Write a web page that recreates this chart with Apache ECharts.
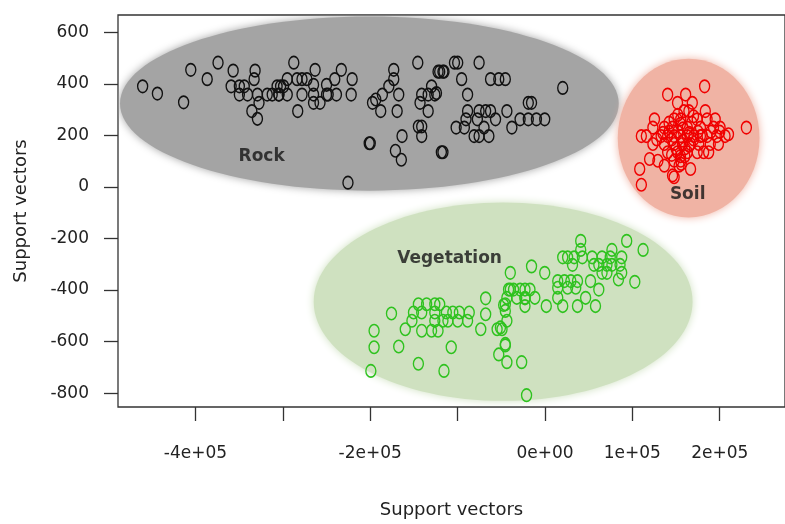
<!DOCTYPE html>
<html>
<head>
<meta charset="utf-8">
<script src="https://cdn.jsdelivr.net/npm/echarts@6/dist/echarts.min.js"></script>
<style>html,body{margin:0;padding:0;background:#fff}#c{width:785px;height:524px}</style>
</head>
<body>
<div id="c"></div>
<script>
// ---- data (x in raw units, y in raw units) ----
const rockPoints = [
[-460500,391],[-443600,363],[-413600,329],[-405400,455],[-386600,419],[-374200,483],[-356900,452],[-331800,452],[-332900,419],[-359200,391],[-349800,391],[-344200,391],[-349800,359],[-340400,359],[-329100,359],[-317900,359],[-312200,359],[-304800,359],[-327300,327],[-335500,295],[-329100,265],[-306600,391],[-299200,391],
[-287500,483],[-263100,455],[-233100,455],[-220700,419],[-240600,419],[-295000,419],[-283800,419],[-278100,419],[-272500,419],[-302600,391],[-304400,359],[-295000,359],[-278100,359],[-264900,359],[-250000,359],[-248100,359],[-238700,359],[-221800,359],[-264900,397],[-250000,397],[-264900,327],[-257500,327],[-283000,295],
[-173100,455],[-173100,419],[-178700,391],[-186100,359],[-193700,340],[-197400,327],[-167400,359],[-188000,295],[-169200,295],[-145600,483],[-122400,448],[-116800,448],[-129800,391],[-141100,359],[-133700,359],[-126100,359],[-143000,327],[-133700,295],[-144900,235],[-141100,235],[-141100,198],[-201200,170],[-200000,170],[-163600,198],[-171200,141],[-164400,106],[-118600,135],[-225500,17],
[-103600,483],[-99900,483],[-75400,483],[-120500,448],[-115600,448],[-95400,419],[-62300,419],[-52900,419],[-45400,419],[-88600,359],[20300,385],[-19100,327],[-15400,327],[-88600,295],[-75400,295],[-67900,295],[-62300,295],[-43600,295],[-90400,263],[-77400,263],[-56600,263],[-101700,231],[-92300,231],[-69800,231],[-37900,231],[-28500,263],[-19100,263],[-9800,263],[-300,263],[-81100,198],[-75400,198],[-64200,198],[-116800,135],[-124200,365]
];
const soilPoints = [
[182700,391],[140400,359],[161000,359],[151700,327],[168600,327],[159100,295],[164700,295],[183500,295],
[125300,263],[147800,263],[155400,263],[174200,263],[185500,263],[194800,263],
[230500,231],[123500,231],[136600,231],[146000,231],[162900,231],[177900,231],[192900,231],[200400,231],
[110300,198],[116000,198],[132900,198],[140400,198],[147800,198],[155400,198],[162900,198],[170400,198],[177900,198],[185500,198],[196700,198],[206100,198],
[123500,167],[136600,167],[147800,167],[157300,167],[166600,167],[176000,167],[189200,167],[198500,167],
[140400,135],[151700,135],[162900,135],[174200,135],[181600,135],[187300,135],
[119700,109],[129200,102],[147800,102],[155400,102],[136600,83],[153500,83],[166600,70],[108400,70],[146000,45],[147800,38],[110300,9],
[152000,215],[158000,180],[165000,210],[145000,185],[170000,185],[160000,150],[150000,150],[142000,215],[175000,215],[168000,250],[155000,245],[160000,120],[155000,120],[145000,125],[165000,160],[180000,200],[190000,215],[200000,215],[210000,205],[152000,280],[170000,275],[135000,210],[128000,185],[158000,228],[142000,250],[156000,90]
];
const vegetationPoints = [
[-195600,-558],[-195600,-622],[-199300,-714],[-175700,-491],[-167400,-619],[-159900,-552],[-144900,-686],[-115600,-714],[-107300,-622],
[-144900,-455],[-135500,-455],[-126100,-455],[-120500,-455],
[-150500,-487],[-141100,-487],[-126100,-487],[-112900,-487],[-105500,-487],[-98000,-487],[-86700,-487],
[-152300,-519],[-126100,-519],[-116800,-519],[-111100,-519],[-99900,-519],[-88600,-519],
[-141100,-558],[-129800,-558],[-122400,-558],
[-67900,-432],[-67900,-494],[-73500,-552],[-54800,-552],[-49200,-552],[-45400,-455],[-45400,-481],[-43600,-519],[-45400,-615],[-52900,-650],[-43600,-680],[-26700,-680],[-21100,-808],[-39700,-398],[-28500,-398],[-22900,-432],
[40900,-209],[93500,-209],[112300,-244],[40900,-244],[20300,-273],[25900,-273],[33400,-273],[42800,-273],[54000,-273],[76600,-244],[65300,-273],[74700,-273],[87800,-273],[31500,-302],[56000,-302],[61600,-302],[70900,-302],[76600,-302],[85900,-302],[65300,-333],[70900,-333],[87800,-333],[84100,-359],[102800,-368],
[-39700,-333],[-15400,-308],[-300,-333],[14600,-365],[22200,-365],[29600,-365],[37200,-365],[52100,-365],[14600,-391],[25900,-391],[35200,-391],[61600,-398],
[-41700,-398],[-36000,-398],[-22900,-398],[-17200,-398],[-43600,-430],[-32300,-430],[-22900,-430],[-11600,-430],[14600,-430],[46500,-430],[-47300,-458],[1500,-462],[20300,-462],[37200,-462],[57800,-462],[-22900,-462],[-51000,-545],[-45400,-609]
];
// cluster ellipses: [centerX, centerY, radiusX, radiusY] in data units
const ellipseNames = ['Rock','Soil','Vegetation'];
const ellipseGeom = [
[-201000,324,285400,338],
[164400,190,81100,308],
[-47900,-445,216800,385]
];
const ellipseColors = ['#a4a4a4','#f0b3a4','#cfe1c0'];
// cluster labels
const labelX = [-324300,163300,-109200];
const labelY = [120,-30,-276];
// axes
const xTicks = [-400000,-300000,-200000,-100000,0,100000,200000];
const xLabels = [-400000,-200000,0,100000,200000];
const yTicks = [-800,-600,-400,-200,0,200,400,600];
const xRange = [-488700,274700];
const yRange = [-854,668];
const axisTitle = 'Support vectors';

function sci(v){
  if (v === 0) return '0e+00';
  const e = Math.floor(Math.log10(Math.abs(v)) + 1e-9);
  const m = Math.round(v / Math.pow(10, e));
  return m + 'e+' + (e < 10 ? '0' + e : e);
}

const ringSymbol = 'path://M0,0A10,10 0 1 1 0,20A10,10 0 1 1 0,0Z';
const fontFam = '"DejaVu Sans", sans-serif';

const chart = echarts.init(document.getElementById('c'), null, {renderer:'canvas'});
function pointSeries(data, color){
  return {
    type:'scatter', data:data, symbol: ringSymbol, symbolSize:[10,12.5],
    itemStyle:{color:'rgba(0,0,0,0)', borderColor:color, borderWidth:1.5, opacity:1},
    emphasis:{disabled:true}, silent:true, z:3
  };
}
chart.setOption({
  animation:false,
  backgroundColor:'#fff',
  grid:{left:118, top:15, right:-11, bottom:113, show:true, borderColor:'#333', borderWidth:1.3, backgroundColor:'transparent'},
  xAxis:{
    type:'value', min:xRange[0], max:xRange[1],
    name:axisTitle, nameLocation:'middle', nameGap:94,
    nameTextStyle:{fontFamily:fontFam, fontSize:18, color:'#222'},
    axisLine:{show:false, onZero:false}, splitLine:{show:false},
    axisTick:{show:true, customValues:xTicks, length:14, lineStyle:{color:'#333', width:1.3}},
    axisLabel:{customValues:xLabels, formatter:sci, margin:38, fontFamily:fontFam, fontSize:17, color:'#222'}
  },
  yAxis:{
    type:'value', min:yRange[0], max:yRange[1],
    name:axisTitle, nameLocation:'middle', nameGap:88,
    nameTextStyle:{fontFamily:fontFam, fontSize:18, color:'#222'},
    axisLine:{show:false, onZero:false}, splitLine:{show:false},
    axisTick:{show:true, customValues:yTicks, length:14, lineStyle:{color:'#333', width:1.3}},
    axisLabel:{customValues:yTicks, margin:29, fontFamily:fontFam, fontSize:17, color:'#222'}
  },
  series:[
    {
      type:'custom', clip:true, silent:true, z:1,
      data: ellipseGeom.map((g,i)=>[g[0],g[1],g[2],g[3],i]),
      renderItem:function(params, api){
        const c = api.coord([api.value(0), api.value(1)]);
        const s = api.size([api.value(2), api.value(3)]);
        const col = ellipseColors[api.value(4)];
        return {
          type:'ellipse',
          shape:{cx:c[0], cy:c[1], rx:s[0], ry:s[1]},
          style:{fill:col, shadowBlur:8, shadowColor:col}
        };
      }
    },
    pointSeries(rockPoints, '#111'),
    pointSeries(soilPoints, '#f00000'),
    pointSeries(vegetationPoints, '#2ec21e'),
    {
      type:'scatter', symbolSize:0, silent:true, z:5,
      data: ellipseNames.map((n,i)=>({name:n, value:[labelX[i], labelY[i]]})),
      label:{show:true, position:'inside', formatter:'{b}', fontFamily:fontFam, fontWeight:'bold', fontSize:17, color:'#151515'}
    }
  ]
});
</script>
</body>
</html>
